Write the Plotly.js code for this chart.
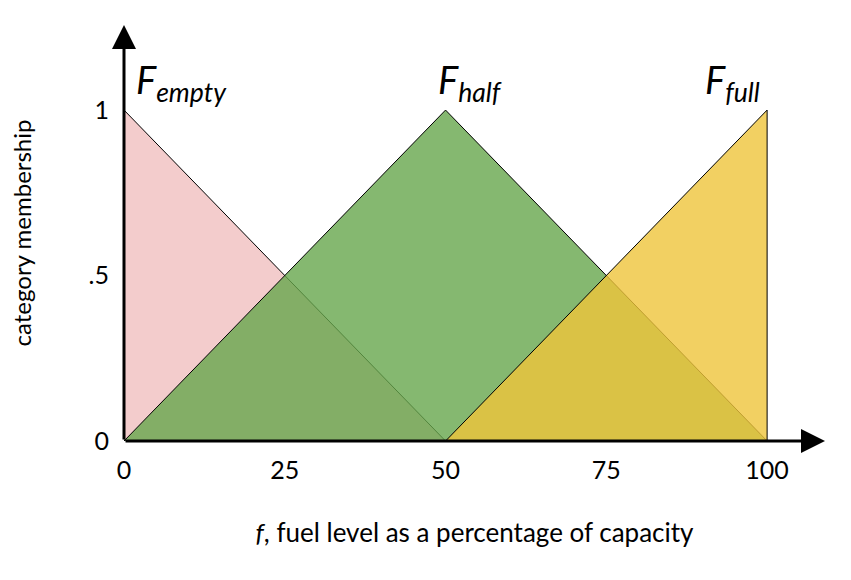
<html><head><script src="https://cdn.plot.ly/plotly-3.0.1.min.js"></script></head><body style="margin:0">
<div id="c" style="width:851px;height:580px"></div>
<script>
const emptyX=[0,0,50,0], emptyY=[0,1,0,0];
const halfX=[0,50,100,0], halfY=[0,1,0,0];
const fullX=[50,100,100,50], fullY=[0,1,0,0];
const xticks=[0,25,50,75,100], yticks=[0,0.5,1], yticklabels=['0','.5','1'];
const line={color:'black',width:1};
const traces=[
 {x:emptyX,y:emptyY,fill:'toself',fillcolor:'rgb(243,204,204)',line:line,mode:'lines',hoverinfo:'skip'},
 {x:halfX,y:halfY,fill:'toself',fillcolor:'rgba(102,166,76,0.8)',line:line,mode:'lines',hoverinfo:'skip'},
 {x:fullX,y:fullY,fill:'toself',fillcolor:'rgba(239,196,59,0.8)',line:line,mode:'lines',hoverinfo:'skip'}
];
const f={family:'Lato, sans-serif',color:'black',size:24};
const layout={
 showlegend:false,margin:{l:124,r:26,t:25,b:139},paper_bgcolor:'white',plot_bgcolor:'white',
 font:f,
 xaxis:{range:[0,109],tickvals:xticks,showgrid:false,zeroline:false,showline:false,ticks:'',tickfont:{size:25},ticklabelstandoff:12,
   title:{text:'<i>f</i>, fuel level as a percentage of capacity',font:{size:26},standoff:40}},
 yaxis:{range:[0,1.257],tickvals:yticks,ticktext:yticklabels,showgrid:false,zeroline:false,showline:false,ticks:'',tickfont:{size:25},ticklabelstandoff:14,
   title:{text:'category membership',font:{size:24},standoff:50}},
 annotations:[
  {x:109,y:0,ax:0,ay:0,axref:'x',ayref:'y',xref:'x',yref:'y',showarrow:true,arrowhead:2,arrowsize:1.6,arrowwidth:3,arrowcolor:'black',text:''},
  {x:0,y:1.257,ax:0,ay:0,axref:'x',ayref:'y',xref:'x',yref:'y',showarrow:true,arrowhead:2,arrowsize:1.6,arrowwidth:3,arrowcolor:'black',text:''},
  {x:1.5,y:1.0,xanchor:'left',yanchor:'bottom',showarrow:false,text:'<i>F</i><sub><i>empty</i></sub>',font:{size:38}},
  {x:48.5,y:1.0,xanchor:'left',yanchor:'bottom',showarrow:false,text:'<i>F</i><sub><i>half</i></sub>',font:{size:38}},
  {x:90,y:1.0,xanchor:'left',yanchor:'bottom',showarrow:false,text:'<i>F</i><sub><i>full</i></sub>',font:{size:38}}
 ]
};
Plotly.newPlot('c',traces,layout,{displayModeBar:false});
</script></body></html>
